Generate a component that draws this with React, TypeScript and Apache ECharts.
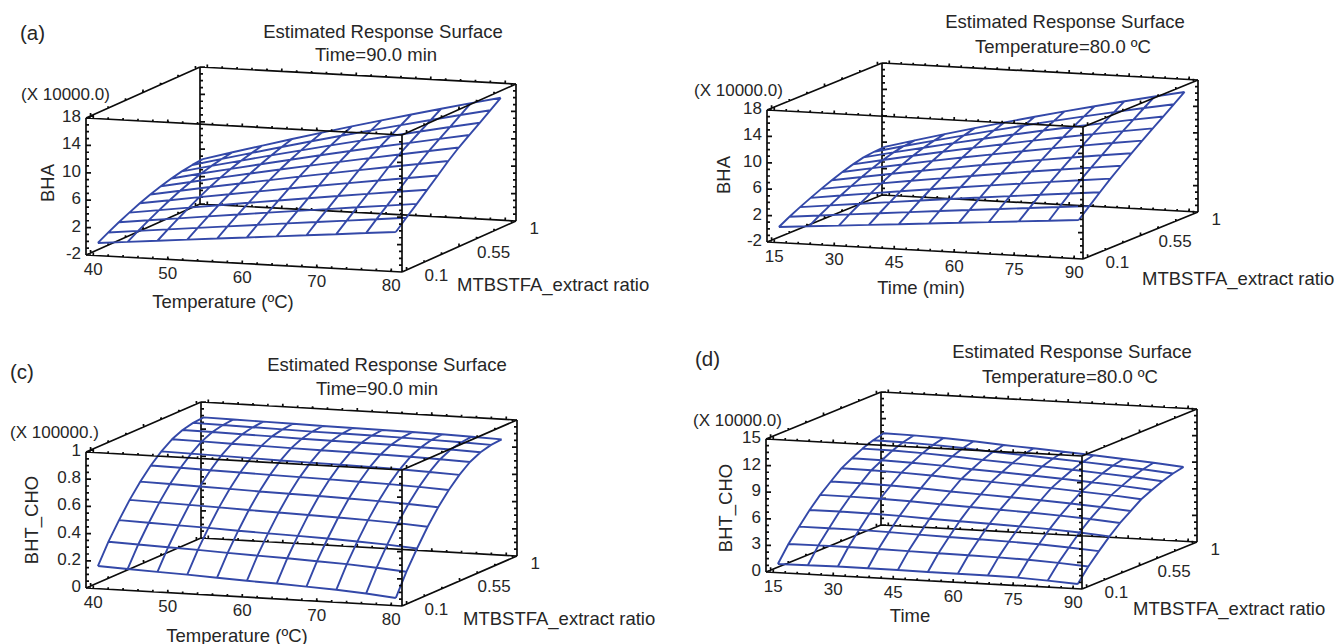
import React, { useEffect, useRef } from "react";
import * as echarts from "echarts";

const WIDTH = 1338;
const HEIGHT = 644;
const MESH = "#3348a8";
const INK = "#0c0c0c";
const TEXT = "#262626";
const FONT = "'Liberation Sans', Arial, sans-serif";

const temperatureGrid = [40, 44, 48, 52, 56, 60, 64, 68, 72, 76, 80];
const timeGrid = [15, 22.5, 30, 37.5, 45, 52.5, 60, 67.5, 75, 82.5, 90];
const ratioGrid = [0.1, 0.19, 0.28, 0.37, 0.46, 0.55, 0.64, 0.73, 0.82, 0.91, 1];

const temperatureTicks = [40, 50, 60, 70, 80];
const timeTicks = [15, 30, 45, 60, 75, 90];
const ratioTicks = [0.1, 0.55, 1];
const bhaTicks = [-2, 2, 6, 10, 14, 18];
const choTicksC = [0, 0.2, 0.4, 0.6, 0.8, 1];
const choTicksD = [0, 3, 6, 9, 12, 15];

// each row is one MTBSTFA ratio (0.1 to 1), each column one temperature or time
const bhaByTemperature = [
  [-0.48, -0.09, 0.31, 0.7, 1.1, 1.49, 1.88, 2.28, 2.67, 3.07, 3.46],
  [0.37, 0.83, 1.29, 1.74, 2.19, 2.64, 3.09, 3.54, 3.97, 4.41, 4.85],
  [1.17, 1.69, 2.21, 2.73, 3.24, 3.74, 4.24, 4.73, 5.23, 5.71, 6.19],
  [1.89, 2.49, 3.09, 3.68, 4.26, 4.83, 5.39, 5.95, 6.5, 7.04, 7.58],
  [2.57, 3.25, 3.93, 4.59, 5.25, 5.89, 6.53, 7.15, 7.77, 8.37, 8.97],
  [3.17, 3.94, 4.72, 5.47, 6.2, 6.94, 7.65, 8.36, 9.05, 9.73, 10.4],
  [3.69, 4.55, 5.41, 6.24, 7.06, 7.87, 8.65, 9.43, 10.2, 10.94, 11.68],
  [4.14, 5.09, 6.01, 6.92, 7.81, 8.69, 9.55, 10.4, 11.21, 12.03, 12.82],
  [4.49, 5.52, 6.53, 7.52, 8.49, 9.45, 10.38, 11.29, 12.18, 13.07, 13.92],
  [4.74, 5.87, 6.97, 8.07, 9.13, 10.17, 11.19, 12.19, 13.17, 14.13, 15.06],
  [4.9, 6.14, 7.35, 8.54, 9.71, 10.85, 11.97, 13.06, 14.13, 15.18, 16.2],
];

const bhaByTime = [
  [0.05, 0.4, 0.75, 1.1, 1.45, 1.8, 2.15, 2.5, 2.85, 3.2, 3.55],
  [0.95, 1.38, 1.79, 2.21, 2.62, 3.03, 3.43, 3.83, 4.22, 4.62, 5.0],
  [1.75, 2.26, 2.75, 3.24, 3.73, 4.2, 4.67, 5.12, 5.57, 6.02, 6.45],
  [2.5, 3.09, 3.67, 4.24, 4.78, 5.33, 5.85, 6.36, 6.87, 7.37, 7.85],
  [3.2, 3.87, 4.52, 5.16, 5.77, 6.38, 6.96, 7.54, 8.09, 8.63, 9.15],
  [3.85, 4.6, 5.32, 6.03, 6.71, 7.38, 8.02, 8.65, 9.25, 9.84, 10.4],
  [4.45, 5.28, 6.08, 6.86, 7.62, 8.35, 9.06, 9.74, 10.4, 11.04, 11.65],
  [4.95, 5.86, 6.74, 7.6, 8.43, 9.23, 10.01, 10.76, 11.48, 12.18, 12.85],
  [5.35, 6.35, 7.31, 8.25, 9.16, 10.04, 10.89, 11.71, 12.5, 13.27, 14.0],
  [5.55, 6.66, 7.72, 8.77, 9.77, 10.76, 11.7, 12.63, 13.51, 14.38, 15.2],
  [5.64, 6.86, 8.05, 9.21, 10.33, 11.42, 12.49, 13.51, 14.51, 15.46, 16.4],
];

const choByTemperature = [
  [0.15, 0.141, 0.132, 0.124, 0.114, 0.104, 0.096, 0.086, 0.075, 0.06, 0.04],
  [0.295, 0.287, 0.279, 0.272, 0.263, 0.255, 0.248, 0.239, 0.23, 0.216, 0.199],
  [0.42, 0.413, 0.406, 0.4, 0.392, 0.385, 0.379, 0.372, 0.363, 0.352, 0.336],
  [0.535, 0.529, 0.523, 0.517, 0.51, 0.504, 0.499, 0.493, 0.486, 0.476, 0.462],
  [0.635, 0.63, 0.624, 0.619, 0.613, 0.608, 0.604, 0.598, 0.592, 0.583, 0.572],
  [0.72, 0.716, 0.71, 0.706, 0.701, 0.697, 0.693, 0.688, 0.683, 0.675, 0.665],
  [0.79, 0.786, 0.782, 0.778, 0.773, 0.77, 0.767, 0.763, 0.758, 0.751, 0.742],
  [0.845, 0.842, 0.837, 0.834, 0.83, 0.827, 0.825, 0.821, 0.816, 0.811, 0.803],
  [0.88, 0.877, 0.873, 0.87, 0.865, 0.863, 0.861, 0.858, 0.853, 0.848, 0.841],
  [0.898, 0.895, 0.891, 0.888, 0.884, 0.882, 0.88, 0.877, 0.873, 0.868, 0.861],
  [0.905, 0.902, 0.898, 0.895, 0.891, 0.889, 0.887, 0.884, 0.88, 0.875, 0.868],
];

const choByTime = [
  [0.73, 0.78, 0.81, 0.8, 0.78, 0.74, 0.73, 0.71, 0.66, 0.5, 0.3],
  [2.5, 2.53, 2.53, 2.49, 2.43, 2.37, 2.32, 2.27, 2.18, 2.01, 1.79],
  [3.97, 3.98, 3.97, 3.9, 3.8, 3.72, 3.64, 3.56, 3.45, 3.26, 3.03],
  [5.37, 5.37, 5.33, 5.24, 5.11, 5.01, 4.9, 4.79, 4.66, 4.46, 4.21],
  [6.58, 6.57, 6.51, 6.4, 6.25, 6.12, 6.0, 5.86, 5.7, 5.49, 5.23],
  [7.6, 7.58, 7.51, 7.38, 7.2, 7.06, 6.91, 6.76, 6.58, 6.36, 6.09],
  [8.6, 8.57, 8.48, 8.33, 8.13, 7.98, 7.81, 7.64, 7.43, 7.21, 6.93],
  [9.25, 9.21, 9.11, 8.96, 8.74, 8.58, 8.39, 8.21, 8.0, 7.77, 7.48],
  [9.85, 9.81, 9.7, 9.53, 9.3, 9.13, 8.94, 8.74, 8.51, 8.28, 7.99],
  [10.3, 10.26, 10.14, 9.97, 9.72, 9.55, 9.34, 9.14, 8.91, 8.67, 8.37],
  [10.6, 10.55, 10.43, 10.25, 10.0, 9.82, 9.61, 9.4, 9.16, 8.92, 8.62],
];

const panels = [
  {
    surface: bhaByTemperature, xGrid: temperatureGrid, xTicks: temperatureTicks, zTicks: bhaTicks,
    xRange: [39.02, 81.44], xMinor: 2, zMinor: 1,
    A: [86, 255], B: [402, 272], C: [200, 204], height: 137,
    letter: "(a)", letterAt: [20, 32],
    titles: [["Estimated Response Surface", 383, 31], ["Time=90.0 min", 376, 54]],
    multiplier: "(X 10000.0)", multiplierAt: [21, 94],
    zName: "BHA", zNameAt: [47, 183],
    xName: "Temperature (ºC)", xNameAt: [223, 301],
    yNameAt: [457, 284],
  },
  {
    surface: bhaByTime, xGrid: timeGrid, xTicks: timeTicks, zTicks: bhaTicks,
    xRange: [13.18, 92.21], xMinor: 3, zMinor: 1,
    A: [767, 242], B: [1083, 259], C: [882, 195], height: 132,
    letter: "", letterAt: [0, 0],
    titles: [["Estimated Response Surface", 1065, 21], ["Temperature=80.0 ºC", 1063, 46]],
    multiplier: "(X 10000.0)", multiplierAt: [694, 90],
    zName: "BHA", zNameAt: [723, 175],
    xName: "Time (min)", xNameAt: [921, 287],
    yNameAt: [1142, 278],
  },
  {
    surface: choByTemperature, xGrid: temperatureGrid, xTicks: temperatureTicks, zTicks: choTicksC,
    xRange: [39.02, 81.44], xMinor: 2, zMinor: 0.05,
    A: [86, 588], B: [402, 606], C: [201, 538], height: 136,
    letter: "(c)", letterAt: [10, 371],
    titles: [["Estimated Response Surface", 387, 364], ["Time=90.0 min", 377, 388]],
    multiplier: "(X 100000.)", multiplierAt: [10, 432],
    zName: "BHT_CHO", zNameAt: [31, 520],
    xName: "Temperature (ºC)", xNameAt: [237, 635],
    yNameAt: [463, 618],
  },
  {
    surface: choByTime, xGrid: timeGrid, xTicks: timeTicks, zTicks: choTicksD,
    xRange: [13.18, 92.21], xMinor: 3, zMinor: 0.75,
    A: [766, 572], B: [1082, 589], C: [881, 525], height: 133,
    letter: "(d)", letterAt: [695, 358],
    titles: [["Estimated Response Surface", 1072, 351], ["Temperature=80.0 ºC", 1070, 376]],
    multiplier: "(X 10000.0)", multiplierAt: [693, 420],
    zName: "BHT_CHO", zNameAt: [725, 508],
    xName: "Time", xNameAt: [910, 615],
    yNameAt: [1133, 608],
  },
];

const RATIO_RANGE = [0.061, 1.039];
const RATIO_MINOR = 0.15;
const RATIO_NAME = "MTBSTFA_extract ratio";
const GAP = ["-", "-"];

function frac(v: number, range: number[]) {
  return (v - range[0]) / (range[1] - range[0]);
}

function place(p: any, f: number, g: number, h: number) {
  return [
    p.A[0] + f * (p.B[0] - p.A[0]) + g * (p.C[0] - p.A[0]),
    p.A[1] + f * (p.B[1] - p.A[1]) + g * (p.C[1] - p.A[1]) - h * p.height,
  ];
}

function segments(list: number[][][]) {
  const out: any[] = [];
  list.forEach((s) => {
    s.forEach((pt) => out.push(pt));
    out.push(GAP);
  });
  return out;
}

function range(from: number, to: number, step: number) {
  const out: number[] = [];
  const n = Math.round((to - from) / step);
  for (let i = 0; i <= n; i++) out.push(from + i * step);
  return out;
}

function buildPanel(p: any) {
  const zRange = [p.zTicks[0], p.zTicks[p.zTicks.length - 1]];
  const at = (x: number, y: number, z: number) =>
    place(p, frac(x, p.xRange), frac(y, RATIO_RANGE), frac(z, zRange));

  const mesh: number[][][] = [];
  p.surface.forEach((row: number[], j: number) => {
    mesh.push(row.map((z, i) => at(p.xGrid[i], ratioGrid[j], z)));
  });
  p.xGrid.forEach((x: number, i: number) => {
    mesh.push(ratioGrid.map((y, j) => at(x, y, p.surface[j][i])));
  });

  const c = (f: number, g: number, h: number) => place(p, f, g, h);
  const backEdges = [
    [c(0, 0, 0), c(0, 1, 0)],
    [c(0, 1, 0), c(1, 1, 0)],
    [c(0, 1, 0), c(0, 1, 1)],
    [c(0, 1, 1), c(1, 1, 1)],
    [c(1, 1, 0), c(1, 1, 1)],
  ];
  const frontEdges = [
    [c(0, 0, 0), c(1, 0, 0)],
    [c(0, 0, 0), c(0, 0, 1)],
    [c(0, 0, 1), c(1, 0, 1)],
    [c(1, 0, 0), c(1, 0, 1)],
    [c(1, 0, 0), c(1, 1, 0)],
    [c(1, 0, 1), c(1, 1, 1)],
    [c(0, 0, 1), c(0, 1, 1)],
  ];

  const up = (pt: number[], len: number) => [pt, [pt[0], pt[1] - len]];
  const side = (pt: number[], len: number) => [pt, [pt[0] + len, pt[1]]];
  const backTicks: number[][][] = [];
  const frontTicks: number[][][] = [];

  const isMajor = (v: number, ticks: number[]) => ticks.some((t) => Math.abs(t - v) < 1e-6);

  range(p.xTicks[0], p.xTicks[p.xTicks.length - 1], p.xMinor).forEach((x) => {
    const f = frac(x, p.xRange);
    const len = isMajor(x, p.xTicks) ? 3 : 2;
    frontTicks.push(up(c(f, 0, 0), len), up(c(f, 0, 1), len));
    backTicks.push(up(c(f, 1, 0), len), up(c(f, 1, 1), len));
  });
  range(ratioTicks[0], ratioTicks[ratioTicks.length - 1], RATIO_MINOR).forEach((y) => {
    const g = frac(y, RATIO_RANGE);
    const len = isMajor(y, ratioTicks) ? 3 : 2;
    backTicks.push(up(c(0, g, 0), len));
    frontTicks.push(up(c(1, g, 0), len), up(c(0, g, 1), len), up(c(1, g, 1), len));
  });
  range(zRange[0], zRange[1], p.zMinor).forEach((z) => {
    const h = frac(z, zRange);
    const len = isMajor(z, p.zTicks) ? 5 : 3;
    frontTicks.push(side(c(0, 0, h), len), side(c(1, 0, h), -len));
    backTicks.push(side(c(0, 1, h), len), side(c(1, 1, h), -len));
  });

  const lineSeries = (data: any[], color: string, width: number, z: number) => ({
    type: "line",
    coordinateSystem: "cartesian2d",
    data,
    symbol: "none",
    showSymbol: false,
    connectNulls: false,
    clip: false,
    silent: true,
    z,
    lineStyle: { color, width, join: "round" },
  });

  const series = [
    lineSeries(segments([...backEdges, ...backTicks]), INK, 1.7, 1),
    lineSeries(segments(mesh), MESH, 1.9, 2),
    lineSeries(segments([...frontEdges, ...frontTicks]), INK, 1.7, 3),
  ];

  const text = (content: string, x: number, y: number, size: number, align = "center", rotation = 0) => ({
    type: "text",
    x,
    y,
    rotation,
    z: 10,
    silent: true,
    style: {
      text: content,
      fill: TEXT,
      font: `${size}px ${FONT}`,
      textAlign: align,
      textVerticalAlign: "middle",
    },
  });

  const labels: any[] = [];
  if (p.letter) labels.push(text(p.letter, p.letterAt[0], p.letterAt[1], 20.5, "left"));
  p.titles.forEach((t: any[]) => labels.push(text(t[0], t[1], t[2], 18.5)));
  labels.push(text(p.multiplier, p.multiplierAt[0], p.multiplierAt[1], 17, "left"));
  labels.push(text(p.zName, p.zNameAt[0], p.zNameAt[1], 18.5, "center", Math.PI / 2));
  labels.push(text(p.xName, p.xNameAt[0], p.xNameAt[1], 18.5));
  labels.push(text(RATIO_NAME, p.yNameAt[0], p.yNameAt[1], 18.5, "left"));

  p.xTicks.forEach((x: number) => {
    const pt = c(frac(x, p.xRange), 0, 0);
    labels.push(text(String(x), pt[0], pt[1] + 14, 17));
  });
  ratioTicks.forEach((y) => {
    const pt = c(1, frac(y, RATIO_RANGE), 0);
    labels.push(text(String(y), pt[0] + 18, pt[1] + 5.5, 17, "left"));
  });
  p.zTicks.forEach((z: number) => {
    const pt = c(0, 0, frac(z, zRange));
    labels.push(text(String(z), pt[0] - 5, pt[1] - 1.5, 17, "right"));
  });

  return { series, labels };
}

export default function App() {
  const ref = useRef<HTMLDivElement>(null);
  useEffect(() => {
    if (!ref.current) return;
    const chart = echarts.init(ref.current, undefined, { renderer: "svg" });
    const built = panels.map(buildPanel);
    chart.setOption({
      animation: false,
      backgroundColor: "#ffffff",
      tooltip: { show: false },
      legend: { show: false },
      grid: { left: 0, right: 0, top: 0, bottom: 0, containLabel: false },
      xAxis: { type: "value", min: 0, max: WIDTH, show: false },
      yAxis: { type: "value", min: 0, max: HEIGHT, inverse: true, show: false },
      series: built.flatMap((b) => b.series),
      graphic: { elements: built.flatMap((b) => b.labels) },
    });
    return () => chart.dispose();
  }, []);
  return (
    <div
      ref={ref}
      style={{ position: "absolute", left: 0, top: 0, width: WIDTH, height: HEIGHT, background: "#fff" }}
    />
  );
}
